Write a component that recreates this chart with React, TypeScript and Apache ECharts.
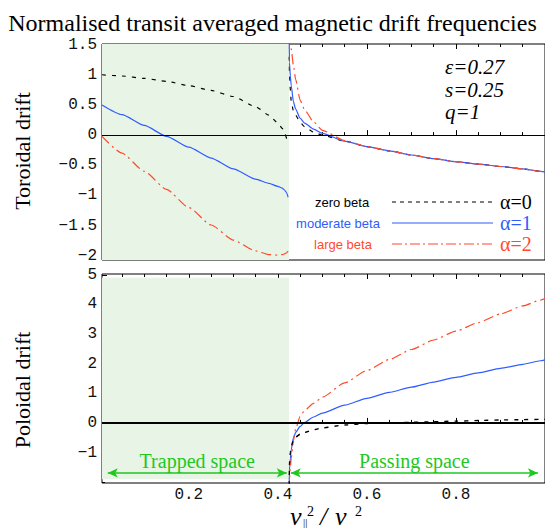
import React, { useEffect, useRef } from "react";
import * as echarts from "echarts";

// ---------- data ----------
const trappedX = [0.005, 0.05, 0.1, 0.15, 0.2, 0.25, 0.3, 0.35, 0.38, 0.4, 0.41, 0.415, 0.42, 0.423];
const torZeroTrapped = [1.0, 0.98, 0.94, 0.89, 0.82, 0.74, 0.64, 0.47, 0.33, 0.2, 0.11, 0.05, -0.06, -0.12];
const torModTrapped = [0.5, 0.34, 0.16, -0.02, -0.2, -0.38, -0.56, -0.73, -0.8, -0.85, -0.88, -0.91, -0.96, -1.03];
const torLargeTrapped = [-0.02, -0.3, -0.6, -0.9, -1.2, -1.49, -1.74, -1.92, -1.98, -1.99, -1.98, -1.97, -1.95, -1.92];

const passingX = [0.4255, 0.426, 0.428, 0.43, 0.435, 0.44, 0.45, 0.46, 0.48, 0.5, 0.55, 0.6, 0.65, 0.7, 0.75, 0.8, 0.85, 0.9, 0.95, 0.99, 1.0];
const torZeroPassing = [1.3, 1.05, 0.75, 0.56, 0.4, 0.33, 0.21, 0.14, 0.05, 0.0, -0.1, -0.19, -0.26, -0.33, -0.39, -0.44, -0.48, -0.52, -0.56, -0.6, -0.61];
const torModPassing = [1.6, 1.2, 0.98, 0.82, 0.55, 0.43, 0.28, 0.2, 0.1, 0.03, -0.1, -0.19, -0.26, -0.33, -0.39, -0.44, -0.48, -0.52, -0.56, -0.6, -0.61];
const torLargePassing = [2.0, 1.8, 1.6, 1.43, 1.15, 0.92, 0.58, 0.42, 0.22, 0.08, -0.09, -0.19, -0.26, -0.33, -0.39, -0.44, -0.48, -0.52, -0.56, -0.6, -0.61];

const polZeroPassing = [-2.1, -1.4, -1.0, -0.8, -0.57, -0.48, -0.38, -0.32, -0.23, -0.17, -0.07, -0.02, 0.0, 0.02, 0.04, 0.06, 0.08, 0.1, 0.11, 0.12, 0.12];
const polModPassing = [-2.1, -1.6, -1.2, -0.9, -0.5, -0.32, -0.12, 0.02, 0.2, 0.33, 0.6, 0.83, 1.03, 1.21, 1.38, 1.54, 1.69, 1.84, 1.98, 2.1, 2.13];
const polLargePassing = [-2.1, -1.9, -1.5, -1.2, -0.6, -0.2, 0.22, 0.42, 0.66, 0.87, 1.35, 1.77, 2.14, 2.48, 2.8, 3.1, 3.39, 3.68, 3.95, 4.15, 4.2];

const xMajorTicks = [0.2, 0.4, 0.6, 0.8, 1.0];
const xLabels = [0.2, 0.4, 0.6, 0.8];
const topYLabels = [-2, -1.5, -1, -0.5, 0, 0.5, 1, 1.5];
const bottomYLabels = [-1, 0, 1, 2, 3, 4, 5];

const trappedBoundary = 0.425;

// minor tick positions
const xMinorTicks: number[] = [];
for (let i = 1; i <= 20; i++) xMinorTicks.push(+(i * 0.05).toFixed(2));
const topYMinor: number[] = [];
for (let i = -20; i <= 15; i++) topYMinor.push(+(i * 0.1).toFixed(1));
const bottomYMinor: number[] = [];
for (let i = -10; i <= 25; i++) bottomYMinor.push(+(i * 0.2).toFixed(1));

// ---------- styles ----------
const BLACK = "#000000";
const BLUE = "#2f5cff";
const RED = "#ff4a2a";
const GREEN = "#1ec81e";
const SHADE = "#e8f4e6";
const MONO = "'Liberation Mono', 'DejaVu Sans Mono', monospace";
const SERIF = "'Liberation Serif', 'DejaVu Serif', serif";
const SANS = "'Liberation Sans', Arial, sans-serif";

const X_MIN = 0.005;
const X_MAX = 1.0;
const TOP_Y = [-2.07, 1.51];
const BOT_Y = [-2.03, 5.03];

const pairs = (xs: number[], ys: number[]) => xs.map((x, i) => [x, ys[i]]);
const fmt = (v: number) => String(v).replace("-", "\u2212");

const labelStyle = { fontFamily: MONO, fontSize: 16, color: "#111", margin: 5 };

function xAxes(gridIndex: number, withLabels: boolean) {
  const base = {
    type: "value",
    gridIndex,
    min: X_MIN,
    max: X_MAX,
    axisLine: { show: false },
    splitLine: { show: false },
  };
  return [
    {
      ...base,
      position: "bottom",
      axisTick: { show: true, inside: true, length: 5, customValues: xMajorTicks, lineStyle: { color: BLACK, width: 1 } },
      axisLabel: withLabels ? { show: true, customValues: xLabels, formatter: fmt, ...labelStyle, margin: 4 } : { show: false },
    },
    { ...base, position: "bottom", axisLabel: { show: false }, axisTick: { show: true, inside: true, length: 3, customValues: xMinorTicks, lineStyle: { color: BLACK, width: 1 } } },
    { ...base, position: "top", axisLabel: { show: false }, axisTick: { show: true, inside: true, length: 5, customValues: xMajorTicks, lineStyle: { color: BLACK, width: 1 } } },
    { ...base, position: "top", axisLabel: { show: false }, axisTick: { show: true, inside: true, length: 3, customValues: xMinorTicks, lineStyle: { color: BLACK, width: 1 } } },
  ];
}

function yAxes(gridIndex: number, range: number[], labels: number[], minor: number[]) {
  const base = {
    type: "value",
    gridIndex,
    min: range[0],
    max: range[1],
    position: "left",
    axisLine: { show: false },
    splitLine: { show: false },
  };
  return [
    {
      ...base,
      axisTick: { show: true, inside: true, length: 5, customValues: labels, lineStyle: { color: BLACK, width: 1 } },
      axisLabel: { show: true, customValues: labels, formatter: fmt, ...labelStyle },
    },
    { ...base, axisLabel: { show: false }, axisTick: { show: true, inside: true, length: 3, customValues: minor, lineStyle: { color: BLACK, width: 1 } } },
  ];
}

const curve = (xi: number, yi: number, data: number[][], color: string, type: any, width = 1.2) => ({
  type: "line",
  xAxisIndex: xi,
  yAxisIndex: yi,
  data,
  symbol: "none",
  smooth: 0.2,
  smoothMonotone: "x",
  clip: true,
  lineStyle: { color, width, type },
  silent: true,
});

const DASH = [4, 6];
const DASHDOT = [10, 4, 2, 4];

const gridBase = {
  show: true,
  borderColor: BLACK,
  borderWidth: 1,
  backgroundColor: "transparent",
  containLabel: false,
};

const option: any = {
  animation: false,
  backgroundColor: "#ffffff",
  title: {
    text: "Normalised transit averaged magnetic drift frequencies",
    left: "center",
    top: 6,
    textStyle: { fontFamily: SERIF, fontSize: 24, fontWeight: "normal", color: BLACK },
  },
  grid: [
    { ...gridBase, left: 102, top: 44, width: 448, height: 216 },
    { ...gridBase, left: 102, top: 274, width: 448, height: 209 },
  ],
  xAxis: [...xAxes(0, false), ...xAxes(1, true)],
  yAxis: [...yAxes(0, TOP_Y, topYLabels, topYMinor), ...yAxes(1, BOT_Y, bottomYLabels, bottomYMinor)],
  series: [
    {
      type: "line",
      xAxisIndex: 0,
      yAxisIndex: 0,
      data: [],
      silent: true,
      markArea: {
        silent: true,
        itemStyle: { color: SHADE },
        data: [[{ xAxis: X_MIN }, { xAxis: trappedBoundary }]],
      },
      markLine: {
        silent: true,
        symbol: "none",
        label: { show: false },
        lineStyle: { color: BLACK, width: 1, type: "solid" },
        data: [{ yAxis: 0 }],
      },
    },
    curve(0, 0, pairs(trappedX, torZeroTrapped), BLACK, DASH),
    curve(0, 0, pairs(passingX, torZeroPassing), BLACK, DASH),
    curve(0, 0, pairs(trappedX, torModTrapped), BLUE, "solid"),
    curve(0, 0, pairs(passingX, torModPassing), BLUE, "solid"),
    curve(0, 0, pairs(trappedX, torLargeTrapped), RED, DASHDOT),
    curve(0, 0, pairs(passingX, torLargePassing), RED, DASHDOT),

    {
      type: "line",
      xAxisIndex: 4,
      yAxisIndex: 2,
      data: [],
      silent: true,
      markArea: {
        silent: true,
        itemStyle: { color: SHADE },
        data: [[{ xAxis: X_MIN, yAxis: -1.9 }, { xAxis: trappedBoundary, yAxis: 4.9 }]],
      },
    },
    curve(4, 2, pairs(passingX, polModPassing), BLUE, "solid"),
    curve(4, 2, pairs(passingX, polLargePassing), RED, DASHDOT),
    {
      type: "line",
      xAxisIndex: 4,
      yAxisIndex: 2,
      data: [],
      silent: true,
      markLine: {
        silent: true,
        symbol: "none",
        label: { show: false },
        lineStyle: { color: BLACK, width: 2, type: "solid" },
        data: [{ yAxis: 0 }],
      },
    },
    curve(4, 2, pairs(passingX, polZeroPassing), BLACK, DASH, 1.4),
    {
      type: "line",
      xAxisIndex: 4,
      yAxisIndex: 2,
      data: [],
      silent: true,
      markLine: {
        silent: true,
        symbol: ["arrow", "arrow"],
        symbolSize: [7, 10],
        lineStyle: { color: GREEN, width: 1.5, type: "solid" },
        label: {
          show: true,
          position: "insideMiddleTop",
          distance: 2,
          formatter: (p: any) => p.name,
          color: GREEN,
          fontFamily: SERIF,
          fontSize: 20,
        },
        data: [
          [{ coord: [0.018, -1.69], name: "Trapped space" }, { coord: [0.42, -1.69] }],
          [{ coord: [0.429, -1.69], name: "Passing space" }, { coord: [0.984, -1.69] }],
        ],
      },
    },
  ],
  graphic: [
    {
      type: "text",
      x: 22,
      y: 151,
      rotation: Math.PI / 2,
      style: { text: "Toroidal drift", fontFamily: SERIF, fontSize: 22, fill: BLACK, textAlign: "center", textVerticalAlign: "middle" },
    },
    {
      type: "text",
      x: 22,
      y: 390,
      rotation: Math.PI / 2,
      style: { text: "Poloidal drift", fontFamily: SERIF, fontSize: 22, fill: BLACK, textAlign: "center", textVerticalAlign: "middle" },
    },
    { type: "text", x: 445, y: 67, style: { text: "\u03b5=0.27", fontFamily: SERIF, fontStyle: "italic", fontSize: 21, fill: BLACK, textVerticalAlign: "middle" } },
    { type: "text", x: 445, y: 90, style: { text: "s=0.25", fontFamily: SERIF, fontStyle: "italic", fontSize: 21, fill: BLACK, textVerticalAlign: "middle" } },
    { type: "text", x: 445, y: 112, style: { text: "q=1", fontFamily: SERIF, fontStyle: "italic", fontSize: 21, fill: BLACK, textVerticalAlign: "middle" } },
    { type: "text", x: 342, y: 202, style: { text: "zero beta", fontFamily: SANS, fontSize: 13, fill: BLACK, textAlign: "center", textVerticalAlign: "middle" } },
    { type: "text", x: 338, y: 223, style: { text: "moderate beta", fontFamily: SANS, fontSize: 13, fill: BLUE, textAlign: "center", textVerticalAlign: "middle" } },
    { type: "text", x: 343, y: 244, style: { text: "large beta", fontFamily: SANS, fontSize: 13, fill: RED, textAlign: "center", textVerticalAlign: "middle" } },
    { type: "line", shape: { x1: 392, y1: 202, x2: 493, y2: 202 }, style: { stroke: BLACK, lineWidth: 1.2, lineDash: [4, 4] } },
    { type: "line", shape: { x1: 392, y1: 223, x2: 493, y2: 223 }, style: { stroke: BLUE, lineWidth: 1.2 } },
    { type: "line", shape: { x1: 392, y1: 244, x2: 493, y2: 244 }, style: { stroke: RED, lineWidth: 1.2, lineDash: [10, 3, 2, 3] } },
    { type: "text", x: 500, y: 202, style: { text: "\u03b1=0", fontFamily: SERIF, fontSize: 20, fill: BLACK, textVerticalAlign: "middle" } },
    { type: "text", x: 500, y: 223, style: { text: "\u03b1=1", fontFamily: SERIF, fontSize: 20, fill: BLUE, textVerticalAlign: "middle" } },
    { type: "text", x: 500, y: 244, style: { text: "\u03b1=2", fontFamily: SERIF, fontSize: 20, fill: RED, textVerticalAlign: "middle" } },
    // x-axis title  v_||^2 / v^2
    { type: "text", x: 290, y: 516, style: { text: "v", fontFamily: SERIF, fontStyle: "italic", fontSize: 26, fill: BLACK, textVerticalAlign: "middle" } },
    { type: "text", x: 303, y: 522, style: { text: "||", fontFamily: SERIF, fontSize: 11, fill: BLACK, textVerticalAlign: "middle" } },
    { type: "text", x: 307, y: 511, style: { text: "2", fontFamily: SERIF, fontSize: 14, fill: BLACK, textVerticalAlign: "middle" } },
    { type: "text", x: 320, y: 516, style: { text: "/", fontFamily: SERIF, fontStyle: "italic", fontSize: 26, fill: BLACK, textVerticalAlign: "middle" } },
    { type: "text", x: 335, y: 516, style: { text: "v", fontFamily: SERIF, fontStyle: "italic", fontSize: 26, fill: BLACK, textVerticalAlign: "middle" } },
    { type: "text", x: 355, y: 511, style: { text: "2", fontFamily: SERIF, fontSize: 14, fill: BLACK, textVerticalAlign: "middle" } },
  ],
};

export default function App() {
  const ref = useRef<HTMLDivElement>(null);
  useEffect(() => {
    if (!ref.current) return;
    const chart = echarts.init(ref.current, undefined, { renderer: "svg" });
    chart.setOption(option);
    return () => chart.dispose();
  }, []);
  return (
    <div
      ref={ref}
      style={{ position: "absolute", left: 0, top: 0, width: 545, height: 529, background: "#ffffff" }}
    />
  );
}
